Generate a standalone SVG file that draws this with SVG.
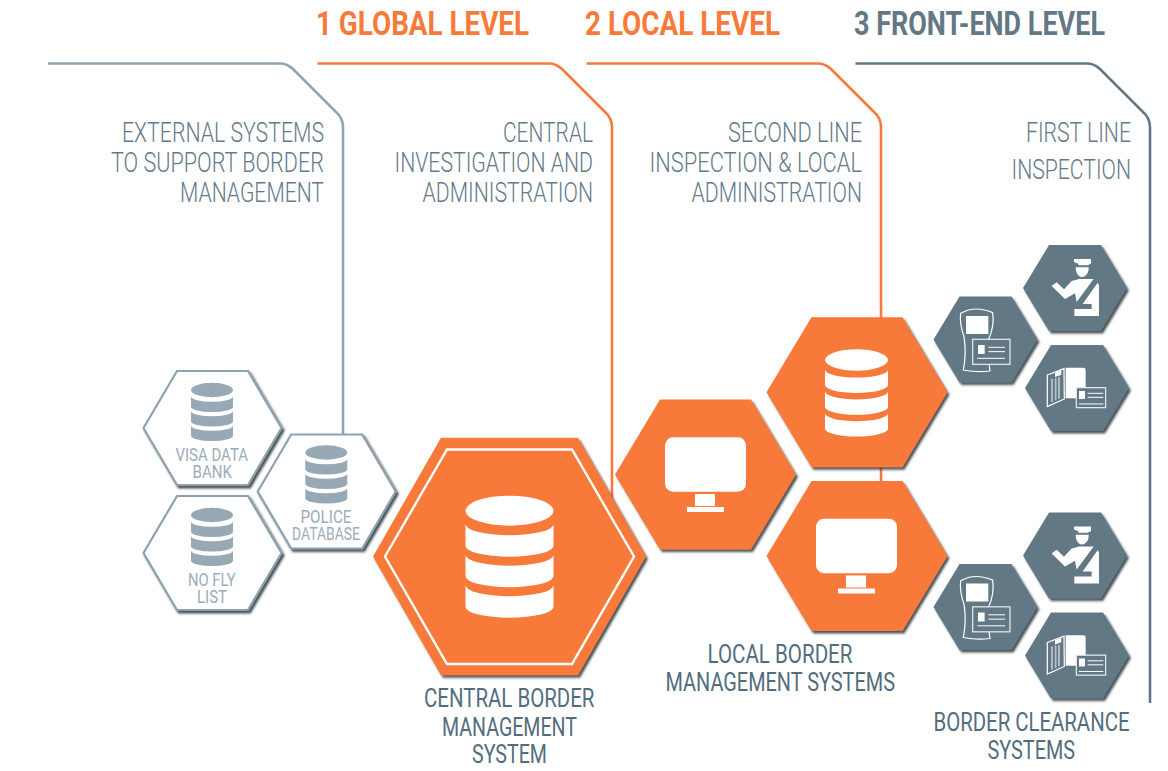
<svg xmlns="http://www.w3.org/2000/svg" width="1168" height="771" viewBox="0 0 1168 771">
<style>
text{font-family:"Roboto","Liberation Sans",sans-serif;}
.title{font-size:34px;font-weight:700;letter-spacing:0}
.or{fill:#f77a3a}
.sl{fill:#637885}
.head{font-size:27.5px;font-weight:300;fill:#637a89}
.cap{font-size:25.5px;font-weight:400;fill:#526d7d}
.sm{font-size:18px;font-weight:400;fill:#9aadb8}
.link{fill:none;stroke-width:2.6}
.hexO{fill:#f77a3a;filter:url(#sh)}
.hexG{fill:#637885;filter:url(#sh)}
.hexW{fill:#fff;stroke:#8da2ae;stroke-width:2.2;filter:url(#sh)}
.w{fill:#fff}
.ol{fill:none;stroke:#fff;stroke-width:3.6}
.cd{fill:#637885;stroke:#e9eef1;stroke-width:3.6}
.ln{stroke:#fff;stroke-width:3;fill:none}
</style>
<defs>
<filter id="sh" x="-10%" y="-10%" width="125%" height="125%"><feDropShadow dx="2" dy="2.5" stdDeviation="1" flood-color="#2c3438" flood-opacity=".85"/></filter>
<polygon id="hO" points="-90.5,0 -45.5,-75 45.5,-75 90.5,0 45.5,75 -45.5,75"/>
<polygon id="hG" points="-52,0 -26,-43 26,-43 52,0 26,43 -26,43"/>
<polygon id="hW" points="-69,0 -35.5,-57 35.5,-57 69,0 35.5,57 -35.5,57"/>
<g id="db">
<ellipse cx="0" cy="0" rx="44" ry="15"/>
<path d="M-44 13.5A44 11 0 0 0 44 13.5V35A44 11 0 0 1 -44 35Z"/>
<path d="M-44 44A44 11 0 0 0 44 44V65.5A44 11 0 0 1 -44 65.5Z"/>
<path d="M-44 74.5A44 11 0 0 0 44 74.5V96A44 11 0 0 1 -44 96Z"/>
</g>
<g id="mon" class="w">
<rect x="-40.5" y="-37.2" width="81" height="54.4" rx="8"/>
<rect x="-10.5" y="19.5" width="20" height="12"/>
<rect x="-18.5" y="32.5" width="37" height="5"/>
</g>
<g id="officer" transform="translate(-155 -58) scale(.3333)">
<polygon class="w" points="462,87 513,87 513,101 502,106 475,106 475,101 462,96"/>
<path class="w" d="M467 112H506C507 128 498 141 485 141C475 141 467 128 467 112Z"/>
<polygon class="w" points="395,168 410,157 432,178 455,153 478,147 521,147 470,216 465,190 435,207"/>
<polygon class="w" points="533,158 537,165 537,258 463,258 463,237 515,237 515,222 488,222"/>
</g>
<g id="reader" transform="translate(-66 -109.5) scale(.3333)">
<path class="ol" d="M122 250Q165 225 218 248Q224 290 205 330L207 400L210 423Q170 428 130 420Q140 370 132 320Q118 280 122 250Z"/>
<rect class="w" x="138" y="258" width="67" height="54"/>
<rect class="cd" x="158" y="328" width="112" height="75"/>
<rect class="w" x="174" y="345" width="20" height="27"/>
<path class="ln" d="M205 352H255M205 365H255M172 385H255"/>
</g>
<g id="passport" transform="translate(-157 -158) scale(.3333)">
<polygon class="ol" points="382,435 432,416 433,507 382,530"/>
<polygon class="w" points="405,428 424,421 424,434 405,441"/>
<path class="ln" d="M396 447V516M417 442V506"/>
<path d="M407 444V511" stroke="#b9c5cc" stroke-width="5" fill="none"/>
<path class="w" d="M437 413H490Q497 413 497 420V505H437Z"/>
<rect class="cd" x="469" y="473" width="88" height="60"/>
<rect class="w" x="477" y="483" width="18" height="24"/>
<path class="ln" d="M503 490H550M503 502H550M477 522H550"/>
</g>
</defs>

<g id="connectors">
<path class="link" stroke="#8fa4b0" d="M48 63.5H280Q287 63.500 293 69L336 112Q343 118 343 127V436"/>
<path class="link" stroke="#f77a3a" d="M317.500 63.500H549Q556 63.500 562 69L605 112Q612 118 612 127V500"/>
<path class="link" stroke="#f77a3a" d="M586.500 63.500H818Q825 63.500 831 69L874 112Q881 118 881 127V485"/>
<path class="link" stroke="#637885" d="M855.500 63.500H1087Q1094 63.500 1100 69L1143 112Q1150 118 1150 127V703"/>
</g>

<g id="titles">
<text class="title or" transform="translate(316 35) scale(.8 1)" textLength="266.250" lengthAdjust="spacingAndGlyphs">1 GLOBAL LEVEL</text>
<text class="title or" transform="translate(585 35) scale(.8 1)" textLength="243.750" lengthAdjust="spacingAndGlyphs">2 LOCAL LEVEL</text>
<text class="title sl" transform="translate(854 35) scale(.8 1)" textLength="313.750" lengthAdjust="spacingAndGlyphs">3 FRONT-END LEVEL</text>
</g>

<g id="headings">
<text class="head" transform="translate(122 142) scale(.78 1)" textLength="259" lengthAdjust="spacingAndGlyphs">EXTERNAL SYSTEMS</text>
<text class="head" transform="translate(111 172) scale(.78 1)" textLength="273" lengthAdjust="spacingAndGlyphs">TO SUPPORT BORDER</text>
<text class="head" transform="translate(180 201.500) scale(.78 1)" textLength="184.600" lengthAdjust="spacingAndGlyphs">MANAGEMENT</text>
<text class="head" transform="translate(503 142) scale(.78 1)" textLength="115.400" lengthAdjust="spacingAndGlyphs">CENTRAL</text>
<text class="head" transform="translate(394.500 172) scale(.78 1)" textLength="254.500" lengthAdjust="spacingAndGlyphs">INVESTIGATION AND</text>
<text class="head" transform="translate(422.500 201.500) scale(.78 1)" textLength="218.600" lengthAdjust="spacingAndGlyphs">ADMINISTRATION</text>
<text class="head" transform="translate(728 142) scale(.78 1)" textLength="171.800" lengthAdjust="spacingAndGlyphs">SECOND LINE</text>
<text class="head" transform="translate(649.500 172) scale(.78 1)" textLength="272.400" lengthAdjust="spacingAndGlyphs">INSPECTION &amp; LOCAL</text>
<text class="head" transform="translate(691.500 201.500) scale(.78 1)" textLength="218.600" lengthAdjust="spacingAndGlyphs">ADMINISTRATION</text>
<text class="head" transform="translate(1026 142) scale(.78 1)" textLength="134.600" lengthAdjust="spacingAndGlyphs">FIRST LINE</text>
<text class="head" transform="translate(1011.500 178.500) scale(.78 1)" textLength="153.200" lengthAdjust="spacingAndGlyphs">INSPECTION</text>
</g>

<g id="node-visa">
<use href="#hW" class="hexW" x="212.500" y="428"/>
<use href="#db" fill="#96a9b4" transform="translate(212 390) scale(.477)"/>
<text class="sm" transform="translate(175.500 460.500) scale(.75 1)" textLength="96.700" lengthAdjust="spacingAndGlyphs">VISA DATA</text>
<text class="sm" transform="translate(192.500 477.500) scale(.75 1)" textLength="52.700" lengthAdjust="spacingAndGlyphs">BANK</text>
</g>
<g id="node-nofly">
<use href="#hW" class="hexW" x="212.500" y="553"/>
<use href="#db" fill="#96a9b4" transform="translate(212 515) scale(.477)"/>
<text class="sm" transform="translate(188 585.500) scale(.75 1)" textLength="63.300" lengthAdjust="spacingAndGlyphs">NO FLY</text>
<text class="sm" transform="translate(197 602.500) scale(.75 1)" textLength="40" lengthAdjust="spacingAndGlyphs">LIST</text>
</g>
<g id="node-police">
<use href="#hW" class="hexW" x="326.700" y="491.500"/>
<use href="#db" fill="#96a9b4" transform="translate(326.300 452.500) scale(.477)"/>
<text class="sm" transform="translate(300.500 523) scale(.75 1)" textLength="68" lengthAdjust="spacingAndGlyphs">POLICE</text>
<text class="sm" transform="translate(292 540) scale(.75 1)" textLength="90.700" lengthAdjust="spacingAndGlyphs">DATABASE</text>
</g>

<g id="node-central">
<polygon class="hexO" points="373,556.500 441,437.800 578,437.800 646,556.500 578,675.200 441,675.200"/>
<polygon points="385,556.500 447,449.500 572,449.500 634,556.500 572,664 447,664" fill="none" stroke="#fff" stroke-width="2.400"/>
<use href="#db" fill="#fff" transform="translate(509.500 510.700)"/>
<text class="cap" transform="translate(424 706.500) scale(.75 1)" textLength="227.300" lengthAdjust="spacingAndGlyphs">CENTRAL BORDER</text>
<text class="cap" transform="translate(442 735.500) scale(.75 1)" textLength="180" lengthAdjust="spacingAndGlyphs">MANAGEMENT</text>
<text class="cap" transform="translate(472 763) scale(.75 1)" textLength="100" lengthAdjust="spacingAndGlyphs">SYSTEM</text>
</g>

<g id="node-local-monitor-1">
<use href="#hO" class="hexO" x="705.500" y="474.500"/>
<use href="#mon" x="705.500" y="474.500"/>
</g>
<g id="node-local-db">
<use href="#hO" class="hexO" x="857" y="392.300"/>
<use href="#db" fill="#fff" transform="translate(856.500 360) scale(.716)"/>
</g>
<g id="node-local-monitor-2">
<use href="#hO" class="hexO" x="857" y="556"/>
<use href="#mon" x="856.500" y="556"/>
<text class="cap" transform="translate(707.500 663) scale(.75 1)" textLength="193.300" lengthAdjust="spacingAndGlyphs">LOCAL BORDER</text>
<text class="cap" transform="translate(665.500 691) scale(.75 1)" textLength="306" lengthAdjust="spacingAndGlyphs">MANAGEMENT SYSTEMS</text>
</g>

<g id="node-officer-1"><use href="#hG" class="hexG" x="1075" y="288"/><use href="#officer" x="1075" y="288"/></g>
<g id="node-reader-1"><use href="#hG" class="hexG" x="985.500" y="339.500"/><use href="#reader" x="986" y="339.500"/></g>
<g id="node-passport-1"><use href="#hG" class="hexG" x="1077" y="388"/><use href="#passport" x="1077" y="388"/></g>
<g id="node-officer-2"><use href="#hG" class="hexG" x="1075" y="555.500"/><use href="#officer" x="1075" y="555.500"/></g>
<g id="node-reader-2"><use href="#hG" class="hexG" x="985.500" y="607"/><use href="#reader" x="986" y="607"/></g>
<g id="node-passport-2"><use href="#hG" class="hexG" x="1077" y="655.500"/><use href="#passport" x="1077" y="655.500"/></g>
<g id="label-clearance">
<text class="cap" transform="translate(933.500 731) scale(.75 1)" textLength="261.300" lengthAdjust="spacingAndGlyphs">BORDER CLEARANCE</text>
<text class="cap" transform="translate(987.500 759) scale(.75 1)" textLength="116.700" lengthAdjust="spacingAndGlyphs">SYSTEMS</text>
</g>
</svg>
